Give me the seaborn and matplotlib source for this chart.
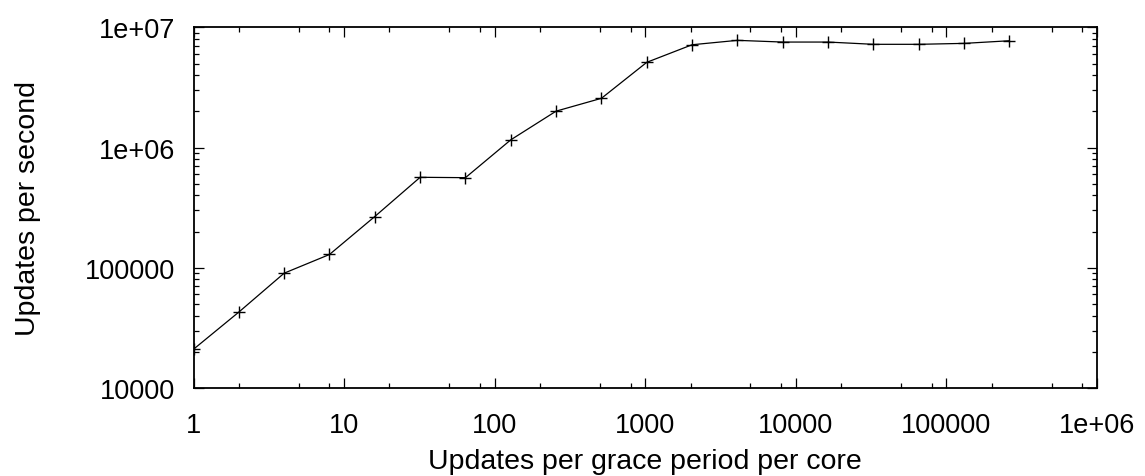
import numpy as np
import matplotlib
matplotlib.use('Agg')
import matplotlib.pyplot as plt
import seaborn as sns
import pandas as pd
from matplotlib.ticker import FixedLocator, NullFormatter

# values
updates_per_gp = [1, 2, 4, 8, 16, 32, 64, 128, 256, 512, 1024, 2048, 4096,
                  8192, 16384, 32768, 65536, 131072, 262144]
updates_per_sec = [21000, 42800, 90200, 129000, 267000, 566000, 562000,
                   1160000, 2010000, 2570000, 5120000, 7170000, 7800000,
                   7550000, 7550000, 7230000, 7230000, 7360000, 7740000]

x_ticks = [1, 10, 100, 1000, 10000, 100000, 1000000]
x_labels = ['1', '10', '100', '1000', '10000', '100000', '1e+06']
y_ticks = [10000, 100000, 1000000, 10000000]
y_labels = ['10000', '100000', '1e+06', '1e+07']

df = pd.DataFrame({'gp': updates_per_gp, 'ups': updates_per_sec})

sns.set_style('ticks', {'text.color': 'black', 'axes.labelcolor': 'black',
                        'xtick.color': 'black', 'ytick.color': 'black',
                        'axes.edgecolor': 'black'})
plt.rcParams['font.family'] = ['Liberation Sans', 'DejaVu Sans']

fig = plt.figure(figsize=(11.45, 4.77), dpi=100)
ax = fig.add_axes([0.169, 0.1845, 0.789, 0.756])

sns.lineplot(data=df, x='gp', y='ups', ax=ax, color='black', linewidth=0.9,
             marker='+', markersize=9, markeredgewidth=1.0,
             markeredgecolor='black')

ax.set_xscale('log')
ax.set_yscale('log')
ax.set_xlim(1, 1e6)
ax.set_ylim(1e4, 1e7)

ax.xaxis.set_major_locator(FixedLocator(x_ticks))
ax.set_xticklabels(x_labels)
ax.yaxis.set_major_locator(FixedLocator(y_ticks))
ax.set_yticklabels(y_labels)

# gnuplot-like minor ticks
xminor = [d * m for d in [1, 10, 100, 1000, 10000, 100000] for m in (2, 5, 8)]
yminor = [d * m for d in [1e4, 1e5, 1e6] for m in range(2, 10)]
ax.xaxis.set_minor_locator(FixedLocator(xminor))
ax.yaxis.set_minor_locator(FixedLocator(yminor))
ax.xaxis.set_minor_formatter(NullFormatter())
ax.yaxis.set_minor_formatter(NullFormatter())

ax.tick_params(which='both', direction='in', top=True, right=True,
               width=0.9, color='black', labelcolor='black')
ax.tick_params(which='major', length=7)
ax.tick_params(which='minor', length=3.6)
ax.tick_params(axis='x', which='major', pad=17.5, labelsize=19.5)
ax.tick_params(axis='y', which='major', pad=13, labelsize=19.5)

for s in ax.spines.values():
    s.set_linewidth(1.3)
    s.set_color('black')

ax.set_xlabel('Updates per grace period per core', fontsize=20.5, labelpad=7,
              color='black')
ax.set_ylabel('Updates per second', fontsize=20.5, labelpad=32, color='black')

fig.savefig('out.png', dpi=100)
